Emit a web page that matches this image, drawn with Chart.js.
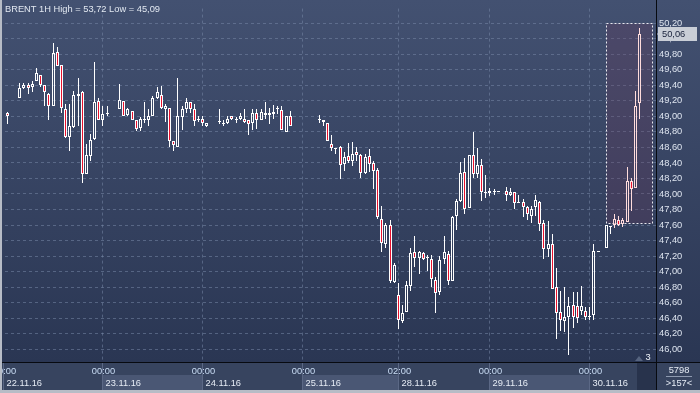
<!DOCTYPE html>
<html>
<head>
<meta charset="utf-8">
<script src="https://cdn.jsdelivr.net/npm/chart.js@4"></script>
<style>
  html, body { margin: 0; padding: 0; background: #2b3754; }
  canvas { display: block; }
</style>
</head>
<body>
<canvas id="brentChart" width="700" height="393"></canvas>
<script>
// hourly slots (0 = 22.11 01:00), empty hours are simply missing
const slots = [0, 3, 4, 5, 6, 7, 8, 9, 10, 11, 12, 13, 14, 15, 16, 17, 18, 19, 20, 21, 22, 23, 24,
  27, 28, 29, 30, 31, 32, 33, 34, 35, 36, 37, 38, 39, 40, 41, 42, 43, 44, 45, 46, 47, 48,
  51, 52, 53, 54, 55, 56, 57, 58, 59, 60, 61, 62, 63, 64, 65, 66, 67, 68,
  75, 76, 77, 78, 79, 80, 81, 82, 83, 84, 85, 86, 87, 88, 89, 90, 91, 92, 93, 94, 95, 96, 97, 98, 99,
  100, 101, 102, 103, 104, 105, 106, 107, 108, 109, 110, 111, 112, 113, 114, 115, 116, 117, 118,
  120, 121, 122, 123, 124, 125, 126, 127, 128, 129, 130, 131, 132, 133, 134, 135, 136, 137, 138, 139, 140, 141, 142,
  144, 145, 146, 147, 148, 149, 150, 151, 152];

const opens = [49.04, 49.24, 49.36, 49.40, 49.38, 49.46, 49.54, 49.41, 49.29, 49.14, 49.83, 49.66, 49.10, 48.73, 48.86, 49.26, 49.31, 48.26, 48.49, 48.71, 49.20, 48.96, 49.03,
  49.09, 49.20, 49.02, 49.07, 48.96, 48.85, 48.95, 48.96, 49.01, 49.24, 49.28, 49.09, 49.11, 48.68, 48.60, 48.99, 49.09, 49.19, 49.09, 48.95, 48.97, 48.88,
  48.93, 48.90, 48.92, 49.00, 48.95, 48.97, 48.97, 48.96, 48.92, 49.05, 48.96, 49.02, 49.02, 49.03, 49.09, 49.08, 48.80, 49.01,
  48.96, 48.96, 48.92, 48.65, 48.59, 48.60, 48.39, 48.49, 48.43, 48.54, 48.50, 48.27, 48.49, 48.40, 48.31, 47.68, 47.36, 47.60, 46.87, 46.70, 46.36, 46.48, 46.81, 47.25, 47.18,
  47.24, 47.18, 47.16, 46.89, 46.73, 47.16, 47.22, 46.88, 47.71, 47.91, 48.28, 47.82, 48.50, 48.26, 48.38, 48.01, 48.04, 48.02, 48.02,
  48.04, 47.99, 48.02, 47.89, 47.90, 47.83, 47.72, 47.83, 47.90, 47.62, 47.29, 47.35, 46.80, 46.48, 46.36, 46.42, 46.57, 46.55, 46.49, 46.49, 46.43, 46.44, 47.25,
  47.31, 47.57, 47.60, 47.67, 47.61, 47.64, 48.17, 48.08, 49.17];

const highs = [49.06, 49.43, 49.43, 49.43, 49.46, 49.63, 49.54, 49.41, 49.30, 49.94, 49.90, 49.66, 49.16, 49.16, 49.33, 49.49, 49.33, 48.65, 48.77, 49.70, 49.24, 49.14, 49.13,
  49.42, 49.20, 49.11, 49.07, 48.96, 48.99, 49.19, 49.09, 49.26, 49.38, 49.39, 49.16, 49.11, 48.68, 49.49, 49.14, 49.24, 49.19, 49.16, 49.01, 49.00, 48.91,
  49.10, 48.96, 49.01, 49.00, 48.99, 49.05, 49.10, 48.96, 49.09, 49.09, 49.09, 49.19, 49.11, 49.15, 49.13, 49.14, 49.00, 49.07,
  49.02, 48.96, 48.92, 48.76, 48.59, 48.62, 48.54, 48.66, 48.67, 48.60, 48.52, 48.52, 48.58, 48.43, 48.34, 47.84, 47.63, 47.67, 47.11, 46.85, 46.57, 46.88, 47.31, 47.46, 47.27,
  47.25, 47.21, 47.21, 46.93, 47.20, 47.46, 47.26, 47.72, 47.93, 48.41, 48.46, 48.50, 48.80, 48.59, 48.45, 48.25, 48.08, 48.07, 48.02,
  48.09, 48.08, 48.02, 47.99, 47.93, 47.85, 47.85, 47.99, 47.91, 47.66, 47.65, 47.48, 47.05, 46.75, 46.80, 46.67, 46.73, 46.74, 46.82, 46.54, 46.54, 47.36, 47.25,
  47.60, 47.58, 47.74, 47.72, 47.69, 48.35, 48.20, 49.33, 50.14];

const lows = [48.90, 49.24, 49.35, 49.29, 49.32, 49.46, 49.38, 49.14, 48.95, 49.14, 49.65, 49.05, 48.72, 48.56, 48.85, 48.88, 48.14, 48.26, 48.43, 48.69, 48.95, 48.87, 49.01,
  49.09, 49.01, 49.01, 48.95, 48.81, 48.81, 48.92, 48.87, 49.01, 49.23, 49.09, 48.93, 48.60, 48.55, 48.60, 48.82, 49.05, 49.05, 48.87, 48.93, 48.88, 48.86,
  48.90, 48.87, 48.90, 48.96, 48.92, 48.95, 48.92, 48.76, 48.83, 48.84, 48.95, 48.97, 48.90, 48.97, 49.03, 48.82, 48.80, 48.87,
  48.92, 48.88, 48.68, 48.56, 48.51, 48.19, 48.30, 48.40, 48.36, 48.43, 48.21, 48.26, 48.28, 48.06, 47.68, 47.25, 47.31, 46.85, 46.85, 46.26, 46.34, 46.48, 46.75, 47.06, 46.97,
  47.15, 47.01, 46.80, 46.46, 46.70, 47.10, 46.83, 46.88, 47.54, 47.90, 47.74, 47.82, 48.21, 48.21, 47.91, 47.95, 47.98, 47.99, 48.02,
  47.91, 47.98, 47.80, 47.88, 47.70, 47.66, 47.63, 47.71, 47.52, 47.16, 47.19, 46.78, 46.13, 46.24, 46.22, 45.92, 46.27, 46.34, 46.44, 46.37, 46.38, 46.38, 47.25,
  47.31, 47.49, 47.56, 47.59, 47.58, 47.64, 47.78, 48.08, 48.97];

const closes = [49.01, 49.37, 49.40, 49.37, 49.42, 49.56, 49.41, 49.31, 49.14, 49.82, 49.65, 49.11, 48.73, 48.87, 49.28, 49.29, 48.26, 48.50, 48.70, 49.19, 48.96, 49.03, 49.05,
  49.21, 49.01, 49.09, 48.96, 48.84, 48.97, 48.97, 49.00, 49.24, 49.31, 49.11, 49.13, 48.68, 48.63, 49.00, 49.10, 49.19, 49.09, 48.94, 48.96, 48.91, 48.91,
  48.94, 48.91, 48.97, 48.97, 48.97, 49.00, 48.93, 48.90, 49.05, 48.95, 49.06, 49.05, 49.05, 49.06, 49.10, 48.82, 49.00, 48.87,
  48.95, 48.93, 48.68, 48.59, 48.58, 48.38, 48.48, 48.42, 48.52, 48.50, 48.27, 48.48, 48.39, 48.30, 47.70, 47.37, 47.60, 46.88, 47.09, 46.38, 46.47, 46.83, 47.24, 47.17, 47.25,
  47.16, 47.17, 46.90, 46.72, 47.15, 47.25, 46.88, 47.70, 47.91, 48.27, 47.81, 48.50, 48.26, 48.37, 48.02, 48.03, 48.01, 48.03, 48.02,
  47.99, 48.03, 47.89, 47.90, 47.83, 47.74, 47.81, 47.92, 47.61, 47.29, 47.36, 46.78, 46.46, 46.37, 46.42, 46.56, 46.41, 46.40, 46.56, 46.41, 46.42, 47.26, 47.25,
  47.60, 47.58, 47.68, 47.60, 47.67, 48.17, 48.06, 49.14, 50.06];

const priceTicks = [46.0, 46.2, 46.4, 46.6, 46.8, 47.0, 47.2, 47.4, 47.6, 47.8, 48.0,
  48.2, 48.4, 48.6, 48.8, 49.0, 49.2, 49.4, 49.6, 49.8, 50.0, 50.2];

// day boundaries on the time axis
const dayStarts = [-1, 23, 47, 71, 94, 116, 140];
const timeLabels = ['00:00', '00:00', '00:00', '00:00', '02:00', '00:00', '00:00'];
const dateLabels = ['22.11.16', '23.11.16', '24.11.16', '25.11.16', '28.11.16', '29.11.16', '30.11.16'];

const title = 'BRENT 1H High = 53,72 Low = 45,09';
const barsShown = 157;
const barsTotal = 5798;
const hiddenBars = 3;

// dotted selection rectangle at the right end
const selFrom = 144.0, selTo = 155.05, selLow = 47.63, selHigh = 50.21;
const HILITE_FROM = 146;

const WHITE = '#ffffff';
const PINK = '#ffdcdc';
const RED = '#e8112d';
const FONT = 'Liberation Sans';
const FONT_SIZE = 9.3;

const fmt = v => v.toFixed(2).replace('.', ',');

// build candle parts
const bodies = [], upperWicks = [], lowerWicks = [], edgeColors = [], fillColors = [];
slots.forEach((s, i) => {
  const o = opens[i], c = closes[i];
  const top = Math.max(o, c), bot = Math.min(o, c);
  bodies.push({ x: s, y: [o, c] });
  upperWicks.push({ x: s, y: [top, highs[i]] });
  lowerWicks.push({ x: s, y: [lows[i], bot] });
  edgeColors.push(s >= HILITE_FROM ? PINK : WHITE);
  fillColors.push(c < o ? RED : 'rgba(0,0,0,0)');
});

// keep bars on whole pixels so the thin candles stay sharp
const snapBars = {
  id: 'snapBars',
  afterDatasetsUpdate(chart) {
    chart.data.datasets.forEach((ds, i) => {
      chart.getDatasetMeta(i).data.forEach(bar => {
        bar.x = Math.floor(bar.x) + 0.5;
        bar.y = Math.round(bar.y);
        bar.base = Math.round(bar.base);
        if (ds.label === 'body' && Math.abs(bar.base - bar.y) < 1) bar.base = bar.y + 1;
      });
    });
  }
};

const decor = {
  id: 'decor',
  beforeDraw(chart) {
    const { ctx, width, height, chartArea: a } = chart;
    const g = ctx.createLinearGradient(0, 0, 0, a.bottom);
    g.addColorStop(0, '#435171');
    g.addColorStop(1, '#2a3653');
    ctx.fillStyle = g;
    ctx.fillRect(0, 0, width, a.bottom);
    ctx.fillStyle = '#37445f';
    ctx.fillRect(0, a.bottom, width, height - a.bottom);
  },
  beforeDatasetsDraw(chart) {
    const { ctx, chartArea: a, scales: { x, y } } = chart;
    ctx.save();
    // day separators
    ctx.strokeStyle = 'rgba(118,134,166,0.55)';
    ctx.lineWidth = 1;
    ctx.setLineDash([3, 3]);
    dayStarts.forEach(s => {
      if (s < 0) return;
      const px = Math.floor(x.getPixelForValue(s)) + 0.5;
      ctx.beginPath();
      ctx.moveTo(px, a.top);
      ctx.lineTo(px, a.bottom);
      ctx.stroke();
    });
    // selection box
    const x0 = Math.round(x.getPixelForValue(selFrom)) + 0.5;
    const x1 = Math.round(x.getPixelForValue(selTo)) + 0.5;
    const y0 = Math.round(y.getPixelForValue(selHigh)) + 0.5;
    const y1 = Math.round(y.getPixelForValue(selLow)) + 0.5;
    ctx.setLineDash([]);
    ctx.fillStyle = 'rgba(105,55,90,0.27)';
    ctx.fillRect(x0, y0, x1 - x0, y1 - y0);
    ctx.strokeStyle = '#e8e8ee';
    ctx.setLineDash([2, 2]);
    ctx.strokeRect(x0, y0, x1 - x0, y1 - y0);
    ctx.restore();
  },
  afterDraw(chart) {
    const { ctx, width, height, chartArea: a, scales: { x, y } } = chart;
    ctx.save();
    ctx.textBaseline = 'middle';
    ctx.font = FONT_SIZE + 'px "' + FONT + '"';

    // time axis strip
    const futureLeft = a.right - 19;
    const rowTop = a.bottom + 13;
    dayStarts.forEach((s, k) => {
      const x0 = Math.floor(x.getPixelForValue(s)) + 0.5;
      const x1 = k + 1 < dayStarts.length ? Math.floor(x.getPixelForValue(dayStarts[k + 1])) + 0.5 : futureLeft;
      if (k % 2 === 1) {
        ctx.fillStyle = '#4a5774';
        ctx.fillRect(x0, rowTop, x1 - x0, height - 3 - rowTop);
      }
      ctx.strokeStyle = '#5b6885';
      ctx.beginPath();
      ctx.moveTo(x0, a.bottom);
      ctx.lineTo(x0, height - 3);
      ctx.stroke();
      ctx.fillStyle = '#c9dcf4';
      ctx.textAlign = 'center';
      ctx.fillText(timeLabels[k], x0 + 1, a.bottom + 9.5);
      ctx.fillStyle = '#e6ecf5';
      ctx.textAlign = 'left';
      ctx.fillText(dateLabels[k], x0 + 3, a.bottom + 21);
    });
    // hidden bars box
    ctx.fillStyle = '#28334c';
    ctx.fillRect(futureLeft, a.bottom + 1, a.right - futureLeft, height - 4 - a.bottom);
    ctx.fillStyle = '#56647f';
    ctx.beginPath();
    ctx.moveTo(a.right - 21, a.bottom - 1);
    ctx.lineTo(a.right - 13, a.bottom - 1);
    ctx.lineTo(a.right - 17, a.bottom - 6);
    ctx.closePath();
    ctx.fill();
    ctx.fillStyle = '#f0f4fa';
    ctx.textAlign = 'center';
    ctx.fillText(String(hiddenBars), a.right - 8, a.bottom - 5);

    // panel separators
    ctx.strokeStyle = '#070a10';
    ctx.lineWidth = 1;
    ctx.beginPath();
    ctx.moveTo(0, a.bottom + 0.5);
    ctx.lineTo(width, a.bottom + 0.5);
    ctx.moveTo(a.right + 0.5, 0);
    ctx.lineTo(a.right + 0.5, height);
    ctx.stroke();

    // counters under the price axis
    const cx = (a.right + width) / 2 + 1;
    ctx.fillStyle = '#e6ecf5';
    ctx.fillText(String(barsTotal), cx, a.bottom + 8.5);
    ctx.fillText('>' + barsShown + '<', cx, a.bottom + 21.5);
    ctx.strokeStyle = '#8e9ab0';
    ctx.beginPath();
    ctx.moveTo(cx - 13, a.bottom + 14.5);
    ctx.lineTo(cx + 13, a.bottom + 14.5);
    ctx.stroke();

    // last price marker
    const last = closes[closes.length - 1];
    const ly = Math.round(y.getPixelForValue(last));
    ctx.fillStyle = '#c9ced7';
    ctx.fillRect(a.right + 2, ly - 7, 39, 14);
    ctx.beginPath();
    ctx.moveTo(a.right + 1, ly);
    ctx.lineTo(a.right + 4, ly - 3);
    ctx.lineTo(a.right + 4, ly + 3);
    ctx.closePath();
    ctx.fill();
    ctx.fillStyle = '#17203a';
    ctx.textAlign = 'left';
    ctx.fillText(fmt(last), a.right + 6, ly + 0.5);

    // title
    ctx.fillStyle = '#e2e8f1';
    ctx.textBaseline = 'alphabetic';
    ctx.fillText(title, 5, 12);

    // window frame
    ctx.fillStyle = '#b7bcc6';
    ctx.fillRect(0, 0, 2, height);
    ctx.fillRect(0, height - 3, width, 3);
    ctx.restore();
  }
};

new Chart(document.getElementById('brentChart'), {
  type: 'bar',
  data: {
    datasets: [
      { label: 'lower', data: lowerWicks, backgroundColor: edgeColors, borderWidth: 0,
        barThickness: 1, grouped: false, inflateAmount: 0 },
      { label: 'upper', data: upperWicks, backgroundColor: edgeColors, borderWidth: 0,
        barThickness: 1, grouped: false, inflateAmount: 0 },
      { label: 'body', data: bodies, backgroundColor: fillColors, borderColor: edgeColors,
        borderWidth: 1, borderSkipped: false, barThickness: 3, minBarLength: 1,
        grouped: false, inflateAmount: 0 }
    ]
  },
  options: {
    responsive: false,
    animation: false,
    events: [],
    layout: { padding: { left: 5, top: 5, right: 0, bottom: 31 } },
    plugins: { legend: { display: false }, tooltip: { enabled: false } },
    scales: {
      x: {
        type: 'linear',
        min: -0.553,
        max: 155.94,
        offset: false,
        display: false
      },
      y: {
        position: 'right',
        min: 45.834,
        max: 50.39,
        afterFit: scale => { scale.width = 44; },
        afterBuildTicks: scale => { scale.ticks = priceTicks.map(v => ({ value: v })); },
        grid: { color: 'rgba(118,134,166,0.55)', lineWidth: 1, drawTicks: false },
        border: { display: false, dash: [3, 3] },
        ticks: {
          padding: 3,
          color: '#dde4ef',
          font: { family: FONT, size: FONT_SIZE },
          callback: v => fmt(v)
        }
      }
    }
  },
  plugins: [decor, snapBars]
});
</script>
</body>
</html>
